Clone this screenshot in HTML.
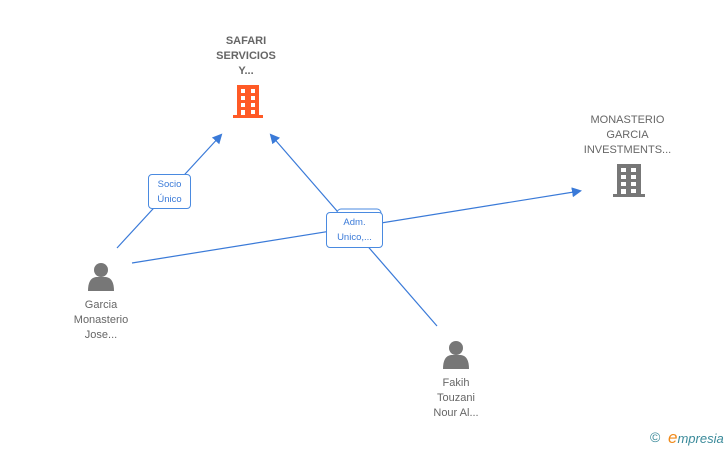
<!DOCTYPE html>
<html><head><meta charset="utf-8"><style>
body{margin:0;width:728px;height:450px;background:#fff;overflow:hidden;position:relative;font-family:"Liberation Sans",sans-serif}
.t{position:absolute;text-align:center;font-size:11px;line-height:15px;color:#666}
.b{font-weight:bold}
.lb{position:absolute;background:#fff;border:1px solid #4a8ae0;border-radius:4px;color:#3a7ad8;font-size:9.5px;line-height:15px;text-align:center;box-sizing:border-box}
</style></head><body>
<svg width="728" height="450" style="position:absolute;left:0;top:0">
<defs><marker id="a" markerWidth="10" markerHeight="10" refX="8" refY="5" orient="auto" markerUnits="userSpaceOnUse"><path d="M0,0 L10,5 L0,10 z" fill="#3a7ad8"/></marker></defs>
<g stroke="#3a7ad8" stroke-width="1.2" fill="none">
<line x1="117" y1="248" x2="221" y2="135" marker-end="url(#a)"/>
<line x1="437" y1="326" x2="271" y2="135" marker-end="url(#a)"/>
<line x1="132" y1="263" x2="580" y2="191" marker-end="url(#a)"/>
</g>
<g fill="#ff5a26">
<rect x="237" y="85" width="22" height="32"/><rect x="233" y="115" width="30" height="3"/>
</g>
<g fill="#fff">
<rect x="241" y="89" width="4" height="4"/><rect x="251" y="89" width="4" height="4"/>
<rect x="241" y="96" width="4" height="4"/><rect x="251" y="96" width="4" height="4"/>
<rect x="241" y="103" width="4" height="4"/><rect x="251" y="103" width="4" height="4"/>
<rect x="241" y="110" width="4" height="5"/><rect x="251" y="110" width="4" height="4"/>
</g>
<g fill="#777">
<rect x="617" y="164" width="24" height="31"/><rect x="613" y="194" width="32" height="3"/>
</g>
<g fill="#fff">
<rect x="621" y="168" width="5" height="4"/><rect x="631" y="168" width="5" height="4"/>
<rect x="621" y="175" width="5" height="4"/><rect x="631" y="175" width="5" height="4"/>
<rect x="621" y="182" width="5" height="4"/><rect x="631" y="182" width="5" height="4"/>
<rect x="621" y="189" width="5" height="5"/><rect x="631" y="189" width="5" height="4"/>
</g>
<g fill="#777">
<circle cx="101" cy="270" r="7"/><path d="M88,291 Q88,278 96,277 L106,277 Q114,278 114,291 z"/>
<circle cx="456" cy="348" r="7"/><path d="M443,369 Q443,356 451,355 L461,355 Q469,356 469,369 z"/>
</g>
<rect x="337" y="209" width="44" height="30" rx="4" fill="#fff" stroke="#4a8ae0"/>
</svg>
<div class="t b" style="left:196px;top:34px;width:100px">SAFARI<br>SERVICIOS<br>Y...</div>
<div class="t" style="left:570px;top:113px;width:115px">MONASTERIO<br>GARCIA<br>INVESTMENTS...</div>
<div class="t" style="left:55px;top:298px;width:92px">Garcia<br>Monasterio<br>Jose...</div>
<div class="t" style="left:410px;top:376px;width:92px">Fakih<br>Touzani<br>Nour Al...</div>
<div class="lb" style="left:148px;top:174px;width:43px;height:35px;padding-top:2px">Socio<br>Único</div>
<div class="lb" style="left:326px;top:212px;width:57px;height:36px;padding-top:2px">Adm.<br>Unico,...</div>
<div style="position:absolute;left:650px;top:429px;font-size:14px;color:#3a8a9a">©</div>
<div style="position:absolute;left:668px;top:428px;font-size:13px;font-style:italic;color:#3a8a9a"><span style="color:#f08a1a;font-size:17px">e</span>mpresia</div>
</body></html>
